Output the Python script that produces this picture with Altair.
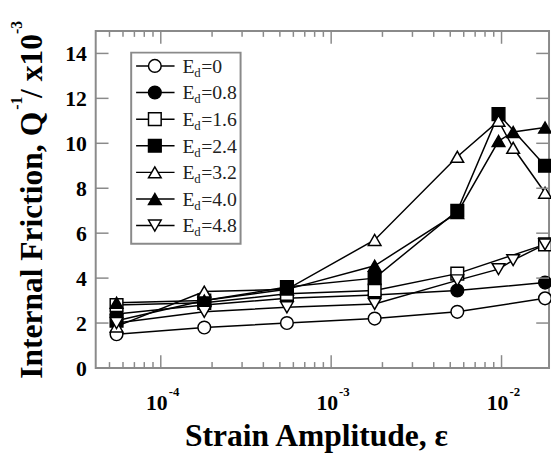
import altair as alt
import pandas as pd

# ---------------- data ----------------
series_names = ["E0", "E0.8", "E1.6", "E2.4", "E3.2", "E4.0", "E4.8"]
series_labels = ["=0", "=0.8", "=1.6", "=2.4", "=3.2", "=4.0", "=4.8"]
series_shapes = ["circle", "circle", "square", "square", "triangle-up", "triangle-up", "triangle-down"]
series_fills = ["white", "black", "white", "black", "white", "black", "white"]
series_sizes = [165, 165, 185, 185, 190, 190, 190]

strain_a = [5.5e-5, 1.8e-4, 5.5e-4, 1.8e-3, 5.5e-3, 1.8e-2]
strain_b = [5.5e-5, 1.8e-4, 5.5e-4, 1.8e-3, 5.5e-3, 9.6e-3, 1.8e-2]
strain_c = [5.5e-5, 1.8e-4, 5.5e-4, 1.8e-3, 5.5e-3, 9.6e-3, 1.17e-2, 1.8e-2]

q_e00 = [1.5, 1.8, 2.0, 2.2, 2.5, 3.1]
q_e08 = [2.4, 2.8, 3.1, 3.25, 3.45, 3.8]
q_e16 = [2.8, 2.9, 3.3, 3.45, 4.2, 5.5]
q_e24 = [2.1, 3.0, 3.6, 4.0, 7.0, 11.3, 9.0]
q_e32 = [1.85, 3.4, 3.5, 5.7, 9.4, 11.0, 9.8, 7.8]
q_e40 = [2.9, 3.0, 3.5, 4.55, 6.9, 10.1, 10.5, 10.7]
q_e48 = [2.0, 2.5, 2.7, 2.85, 3.9, 4.4, 4.8, 5.5]

x_strains = [strain_a, strain_a, strain_a, strain_b, strain_c, strain_c, strain_c]
y_values = [q_e00, q_e08, q_e16, q_e24, q_e32, q_e40, q_e48]

y_ticks = [0, 2, 4, 6, 8, 10, 12, 14]
x_major = [1e-4, 1e-3, 1e-2]
x_exponents = ["-4", "-3", "-2"]
x_minor = [5e-5, 6e-5, 7e-5, 8e-5, 9e-5,
           2e-4, 3e-4, 4e-4, 5e-4, 6e-4, 7e-4, 8e-4, 9e-4,
           2e-3, 3e-3, 4e-3, 5e-3, 6e-3, 7e-3, 8e-3, 9e-3]

rows = []
for s, xs, ys in zip(series_names, x_strains, y_values):
    for xv, yv in zip(xs, ys):
        rows.append({"series": s, "strain": xv, "q": yv})
df = pd.DataFrame(rows)

leg_df = pd.DataFrame({"series": series_names, "lab": series_labels,
                       "idx": list(range(len(series_names)))})

# ---------------- layout ----------------
W, H = 460, 342
FONT = "Liberation Serif"
FRAME = "#8a8a8a"

x_scale = alt.Scale(type="log", domain=[4.15e-5, 1.9e-2])
y_scale = alt.Scale(domain=[0, 15])
shape_scale = alt.Scale(domain=series_names, range=series_shapes)
fill_scale = alt.Scale(domain=series_names, range=series_fills)
size_scale = alt.Scale(domain=series_names, range=series_sizes)

lines = alt.Chart(df).mark_line(color="black", strokeWidth=1.5).encode(
    x=alt.X("strain:Q", scale=x_scale, axis=None),
    y=alt.Y("q:Q", scale=y_scale, axis=None),
    detail="series:N",
    order="strain:Q",
)

points = alt.Chart(df).mark_point(filled=True, stroke="black", strokeWidth=1.5, opacity=1).encode(
    x=alt.X("strain:Q", scale=x_scale, axis=None),
    y=alt.Y("q:Q", scale=y_scale, axis=None),
    shape=alt.Shape("series:N", scale=shape_scale, legend=None),
    fill=alt.Fill("series:N", scale=fill_scale, legend=None),
    size=alt.Size("series:N", scale=size_scale, legend=None),
)

ytick_df = pd.DataFrame({"v": y_ticks})
ytl = alt.Chart(ytick_df).mark_rule(color=FRAME, strokeWidth=1.5).encode(
    y=alt.Y("v:Q", scale=y_scale, axis=None), x=alt.value(0), x2=alt.value(13))
ytr = alt.Chart(ytick_df).mark_rule(color=FRAME, strokeWidth=1.5).encode(
    y=alt.Y("v:Q", scale=y_scale, axis=None), x=alt.value(W - 13), x2=alt.value(W))
ylab = alt.Chart(ytick_df).mark_text(align="right", baseline="middle", dy=1,
                                     font=FONT, fontWeight="bold", fontSize=22,
                                     color="black").encode(
    y=alt.Y("v:Q", scale=y_scale, axis=None), x=alt.value(-9), text="v:Q")

xmaj_df = pd.DataFrame({"v": x_major, "e": x_exponents})
xmin_df = pd.DataFrame({"v": x_minor})
xtb = alt.Chart(xmaj_df).mark_rule(color=FRAME, strokeWidth=1.5).encode(
    x=alt.X("v:Q", scale=x_scale, axis=None), y=alt.value(H), y2=alt.value(H - 13))
xtt = alt.Chart(xmaj_df).mark_rule(color=FRAME, strokeWidth=1.5).encode(
    x=alt.X("v:Q", scale=x_scale, axis=None), y=alt.value(0), y2=alt.value(13))
xmb = alt.Chart(xmin_df).mark_rule(color=FRAME, strokeWidth=1.5).encode(
    x=alt.X("v:Q", scale=x_scale, axis=None), y=alt.value(H), y2=alt.value(H - 6))
xmt = alt.Chart(xmin_df).mark_rule(color=FRAME, strokeWidth=1.5).encode(
    x=alt.X("v:Q", scale=x_scale, axis=None), y=alt.value(0), y2=alt.value(6))

xlab10 = alt.Chart(xmaj_df).mark_text(align="right", baseline="alphabetic", dx=7,
                                      font=FONT, fontWeight="bold", fontSize=22,
                                      color="black").encode(
    x=alt.X("v:Q", scale=x_scale, axis=None), y=alt.value(H + 43), text=alt.value("10"))
xlabexp = alt.Chart(xmaj_df).mark_text(align="left", baseline="alphabetic", dx=8,
                                       font=FONT, fontWeight="bold", fontSize=13,
                                       color="black").encode(
    x=alt.X("v:Q", scale=x_scale, axis=None), y=alt.value(H + 28), text="e:N")

one = pd.DataFrame({"k": [0]})
xtitle = alt.Chart(one).mark_text(align="center", baseline="alphabetic", font=FONT,
                                  fontWeight="bold", fontSize=32, color="black").encode(
    x=alt.value(224), y=alt.value(421), text=alt.value("Strain Amplitude, ε"))


def ytext(txt, xpos, ypos, size):
    return alt.Chart(one).mark_text(align="left", baseline="alphabetic", angle=270,
                                    font=FONT, fontWeight="bold", fontSize=size,
                                    color="black").encode(
        x=alt.value(xpos), y=alt.value(ypos), text=alt.value(txt))


yt1 = ytext("Internal Friction, Q", -54, 353, 32)
yt2 = ytext("-1", -75, 80, 16)
yt3 = ytext("/ x10", -54, 68, 32)
yt4 = ytext("-3", -75, 3, 16)

# ---------------- legend ----------------
leg_box = alt.Chart(one).mark_rect(fill="white", stroke=FRAME, strokeWidth=2).encode(
    x=alt.value(36), x2=alt.value(147), y=alt.value(22), y2=alt.value(216))

leg_base = alt.Chart(leg_df).transform_calculate(
    ly="35.5 + 27 * datum.idx", lyt="42.5 + 27 * datum.idx", lys="46.5 + 27 * datum.idx")
leg_line = leg_base.mark_rule(color="black", strokeWidth=1.5).encode(
    x=alt.value(41), x2=alt.value(80), y=alt.Y("ly:Q", scale=None, axis=None))
leg_pts = leg_base.mark_point(filled=True, stroke="black", strokeWidth=1.5, opacity=1).encode(
    x=alt.value(60), y=alt.Y("ly:Q", scale=None, axis=None),
    shape=alt.Shape("series:N", scale=shape_scale, legend=None),
    fill=alt.Fill("series:N", scale=fill_scale, legend=None),
    size=alt.Size("series:N", scale=size_scale, legend=None))
leg_E = leg_base.mark_text(align="left", baseline="alphabetic", font=FONT, fontSize=20,
                           color="#222").encode(
    x=alt.value(88), y=alt.Y("lyt:Q", scale=None, axis=None), text=alt.value("E"))
leg_d = leg_base.mark_text(align="left", baseline="alphabetic", font=FONT, fontSize=13,
                           color="#222").encode(
    x=alt.value(100), y=alt.Y("lys:Q", scale=None, axis=None), text=alt.value("d"))
leg_lab = leg_base.mark_text(align="left", baseline="alphabetic", font=FONT, fontSize=20,
                             color="#222").encode(
    x=alt.value(107), y=alt.Y("lyt:Q", scale=None, axis=None), text="lab:N")

chart = alt.layer(
    lines, points, ytl, ytr, ylab, xtb, xtt, xmb, xmt, xlab10, xlabexp, xtitle,
    yt1, yt2, yt3, yt4,
    leg_box, leg_line, leg_pts, leg_E, leg_d, leg_lab,
).properties(
    width=W, height=H,
    padding={"left": 89, "top": 20, "right": 2, "bottom": 85},
    autosize=alt.AutoSizeParams(type="none"),
    background="white",
).configure_view(stroke=FRAME, strokeWidth=2)

chart.save("out.html", embed_options={"renderer": "svg", "actions": False})
